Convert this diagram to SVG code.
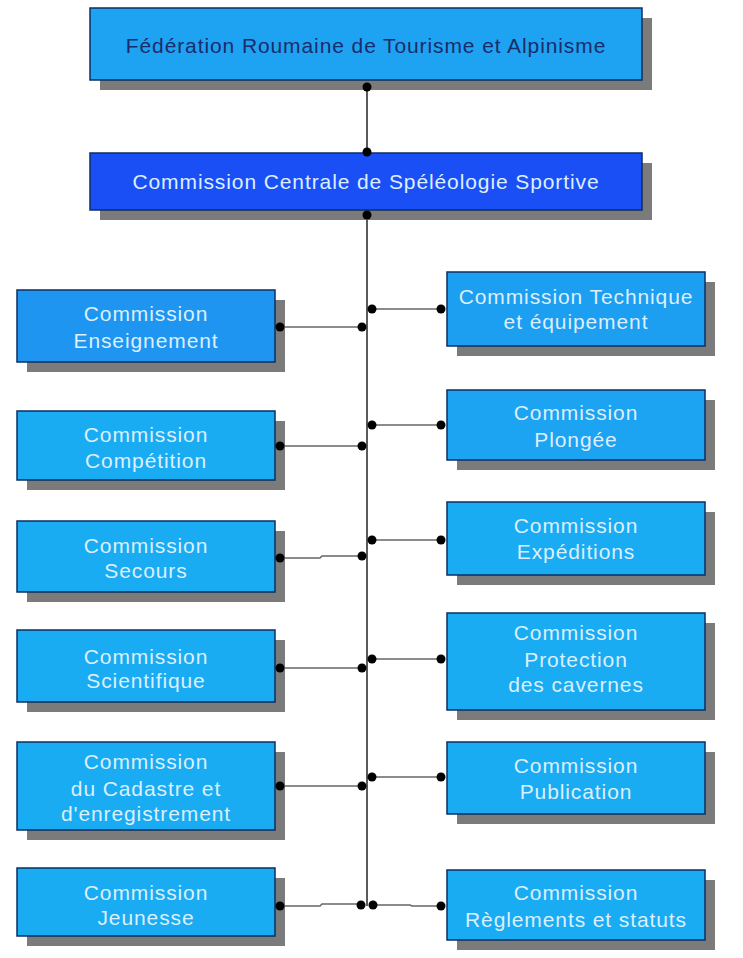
<svg xmlns="http://www.w3.org/2000/svg" width="743" height="958" viewBox="0 0 743 958">
<defs>
<style>
.sh{fill:#7b7b7b}
.bx{fill:#19acf2;stroke:#0b2f63;stroke-width:1.5}
.t{font-family:"Liberation Sans",Arial,sans-serif;font-size:21px;letter-spacing:0.9px;fill:#dcefff;text-anchor:middle}
.ln{stroke:#666;stroke-width:1.6;fill:none}
.vl{stroke:#333;stroke-width:1.6;fill:none}
.d{fill:#000}
</style>
</defs>
<rect width="743" height="958" fill="#fff"/>
<g id="connectors">
<path class="vl" d="M367 87V152M367 215V906"/>
<path class="ln" d="M280 327H361"/>
<path class="ln" d="M280 446H361"/>
<path class="ln" d="M280 558H320L322 556H361"/>
<path class="ln" d="M280 668H361"/>
<path class="ln" d="M280 786H361"/>
<path class="ln" d="M280 906H320L322 904H361"/>
<path class="ln" d="M372 309H441"/>
<path class="ln" d="M372 425H441"/>
<path class="ln" d="M372 540H441"/>
<path class="ln" d="M372 659H441"/>
<path class="ln" d="M372 777H441"/>
<path class="ln" d="M372 905H410L412 906H441"/>
</g>
<g id="federation">
<rect class="sh" x="100" y="18" width="552" height="72"/>
<rect class="bx" x="90" y="8" width="552" height="72" style="fill:#1ea3f3"/>
<text class="t" x="366" y="53" style="fill:#1b2c6a">Fédération Roumaine de Tourisme et Alpinisme</text>
</g>
<g id="centrale">
<rect class="sh" x="100" y="163" width="552" height="57"/>
<rect class="bx" x="90" y="153" width="552" height="57" style="fill:#1a4ff5"/>
<text class="t" x="366" y="189">Commission Centrale de Spéléologie Sportive</text>
</g>
<g id="enseignement">
<rect class="sh" x="27" y="300" width="258" height="72"/>
<rect class="bx" x="17" y="290" width="258" height="72" style="fill:#1e95f0"/>
<text class="t" x="146" y="321">Commission</text>
<text class="t" x="146" y="348">Enseignement</text>
</g>
<g id="competition">
<rect class="sh" x="27" y="421" width="258" height="69"/>
<rect class="bx" x="17" y="411" width="258" height="69"/>
<text class="t" x="146" y="442">Commission</text>
<text class="t" x="146" y="468">Compétition</text>
</g>
<g id="secours">
<rect class="sh" x="27" y="531" width="258" height="71"/>
<rect class="bx" x="17" y="521" width="258" height="71"/>
<text class="t" x="146" y="553">Commission</text>
<text class="t" x="146" y="578">Secours</text>
</g>
<g id="scientifique">
<rect class="sh" x="27" y="640" width="258" height="72"/>
<rect class="bx" x="17" y="630" width="258" height="72"/>
<text class="t" x="146" y="664">Commission</text>
<text class="t" x="146" y="688">Scientifique</text>
</g>
<g id="cadastre">
<rect class="sh" x="27" y="752" width="258" height="88"/>
<rect class="bx" x="17" y="742" width="258" height="88"/>
<text class="t" x="146" y="769">Commission</text>
<text class="t" x="146" y="796">du Cadastre et</text>
<text class="t" x="146" y="821">d'enregistrement</text>
</g>
<g id="jeunesse">
<rect class="sh" x="27" y="878" width="258" height="68"/>
<rect class="bx" x="17" y="868" width="258" height="68"/>
<text class="t" x="146" y="900">Commission</text>
<text class="t" x="146" y="925">Jeunesse</text>
</g>
<g id="technique">
<rect class="sh" x="457" y="282" width="258" height="74"/>
<rect class="bx" x="447" y="272" width="258" height="74" style="fill:#1c9ef1"/>
<text class="t" x="576" y="304">Commission Technique</text>
<text class="t" x="576" y="329">et équipement</text>
</g>
<g id="plongee">
<rect class="sh" x="457" y="400" width="258" height="70"/>
<rect class="bx" x="447" y="390" width="258" height="70" style="fill:#1ca3f1"/>
<text class="t" x="576" y="420">Commission</text>
<text class="t" x="576" y="447">Plongée</text>
</g>
<g id="expeditions">
<rect class="sh" x="457" y="512" width="258" height="73"/>
<rect class="bx" x="447" y="502" width="258" height="73"/>
<text class="t" x="576" y="533">Commission</text>
<text class="t" x="576" y="559">Expéditions</text>
</g>
<g id="protection">
<rect class="sh" x="457" y="623" width="258" height="97"/>
<rect class="bx" x="447" y="613" width="258" height="97"/>
<text class="t" x="576" y="640">Commission</text>
<text class="t" x="576" y="667">Protection</text>
<text class="t" x="576" y="692">des cavernes</text>
</g>
<g id="publication">
<rect class="sh" x="457" y="752" width="258" height="72"/>
<rect class="bx" x="447" y="742" width="258" height="72"/>
<text class="t" x="576" y="773">Commission</text>
<text class="t" x="576" y="799">Publication</text>
</g>
<g id="reglements">
<rect class="sh" x="457" y="880" width="258" height="70"/>
<rect class="bx" x="447" y="870" width="258" height="70"/>
<text class="t" x="576" y="900">Commission</text>
<text class="t" x="576" y="927">Règlements et statuts</text>
</g>
<g id="connector-dots">
<circle class="d" cx="367" cy="87" r="4.5"/>
<circle class="d" cx="367" cy="152" r="4.5"/>
<circle class="d" cx="367" cy="215" r="4.5"/>
<circle class="d" cx="280" cy="327" r="4.5"/><circle class="d" cx="362" cy="327" r="4.5"/>
<circle class="d" cx="280" cy="446" r="4.5"/><circle class="d" cx="362" cy="446" r="4.5"/>
<circle class="d" cx="280" cy="558" r="4.5"/><circle class="d" cx="362" cy="556" r="4.5"/>
<circle class="d" cx="280" cy="668" r="4.5"/><circle class="d" cx="362" cy="668" r="4.5"/>
<circle class="d" cx="280" cy="786" r="4.5"/><circle class="d" cx="362" cy="786" r="4.5"/>
<circle class="d" cx="280" cy="906" r="4.5"/><circle class="d" cx="361" cy="905" r="4.5"/>
<circle class="d" cx="372" cy="309" r="4.5"/><circle class="d" cx="441" cy="309" r="4.5"/>
<circle class="d" cx="372" cy="425" r="4.5"/><circle class="d" cx="441" cy="425" r="4.5"/>
<circle class="d" cx="372" cy="540" r="4.5"/><circle class="d" cx="441" cy="540" r="4.5"/>
<circle class="d" cx="372" cy="659" r="4.5"/><circle class="d" cx="441" cy="659" r="4.5"/>
<circle class="d" cx="372" cy="777" r="4.5"/><circle class="d" cx="441" cy="777" r="4.5"/>
<circle class="d" cx="373" cy="905" r="4.5"/><circle class="d" cx="441" cy="906" r="4.5"/>
</g>
</svg>
